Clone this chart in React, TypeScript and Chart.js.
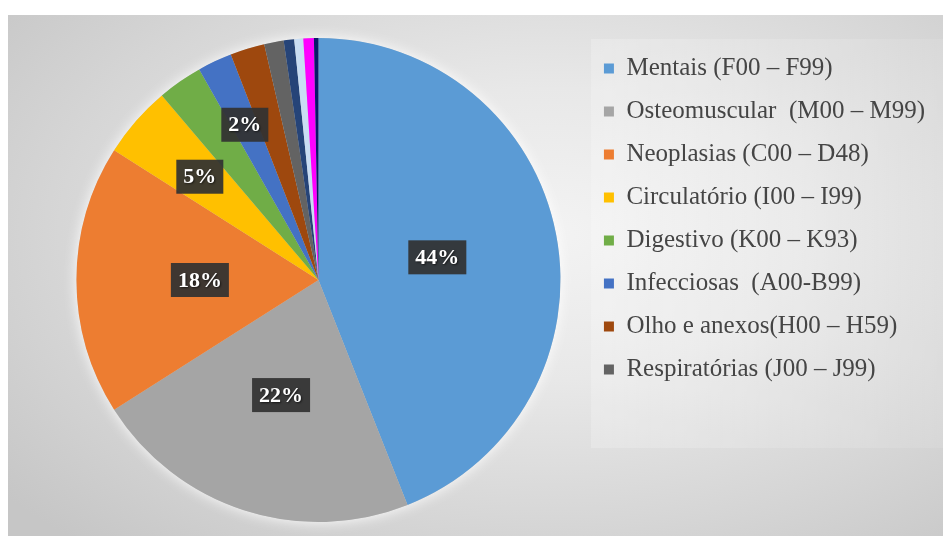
import { useEffect, useRef } from "react";
import { Chart, registerables } from "chart.js";

Chart.register(...registerables);

const categories = [
  "Mentais (F00 – F99)",
  "Osteomuscular  (M00 – M99)",
  "Neoplasias (C00 – D48)",
  "Circulatório (I00 – I99)",
  "Digestivo (K00 – K93)",
  "Infecciosas  (A00-B99)",
  "Olho e anexos(H00 – H59)",
  "Respiratórias (J00 – J99)",
  "Outros 1",
  "Outros 2",
  "Outros 3",
  "Outros 4",
];
const values = [44, 22, 18, 4.8, 3, 2.3, 2.3, 1.3, 0.7, 0.6, 0.7, 0.3];
const legendCount = 8;
const labelledSlices = [0, 1, 2, 3, 5];

const colors = [
  "#5B9BD5",
  "#A5A5A5",
  "#ED7D31",
  "#FFC000",
  "#70AD47",
  "#4472C4",
  "#9E480E",
  "#636363",
  "#264478",
  "#C9DDF3",
  "#FF00FF",
  "#0A1A6A",
];

const labelRadii: Record<number, number> = { 0: 0.5, 1: 0.5, 2: 0.49, 3: 0.65, 5: 0.71 };

const glowPlugin = {
  id: "pieGlow",
  beforeDatasetsDraw(chart: any) {
    const meta = chart.getDatasetMeta(0);
    const arc = meta.data[0];
    if (!arc) return;
    const { x, y, outerRadius } = arc.getProps(["x", "y", "outerRadius"], true);
    const ctx = chart.ctx;
    ctx.save();
    ctx.shadowColor = "rgba(255,255,255,0.95)";
    ctx.shadowBlur = 14;
    ctx.fillStyle = "#cccccc";
    ctx.beginPath();
    ctx.arc(x, y, outerRadius, 0, Math.PI * 2);
    ctx.fill();
    ctx.restore();
  },
};

const legendBoxPlugin = {
  id: "legendBox",
  beforeDraw(chart: any) {
    const lg = chart.legend;
    if (!lg) return;
    const ctx = chart.ctx;
    ctx.save();
    const grad = ctx.createLinearGradient(lg.left, 0, chart.width, 0);
    grad.addColorStop(0, "rgba(255,255,255,0.22)");
    grad.addColorStop(1, "rgba(255,255,255,0.1)");
    ctx.fillStyle = grad;
    ctx.fillRect(lg.left + 5, 24, chart.width - lg.left - 5, 409);
    ctx.restore();
  },
};

const sliceLabelPlugin = {
  id: "sliceLabels",
  afterDatasetsDraw(chart: any) {
    const meta = chart.getDatasetMeta(0);
    const ctx = chart.ctx;
    const total = values.reduce((a, b) => a + b, 0);
    ctx.save();
    ctx.font = "bold 22px 'Liberation Serif', 'Times New Roman', serif";
    ctx.textAlign = "center";
    ctx.textBaseline = "middle";
    labelledSlices.forEach((i) => {
      const arc = meta.data[i];
      if (!arc) return;
      const { x, y, startAngle, endAngle, outerRadius } = arc.getProps(
        ["x", "y", "startAngle", "endAngle", "outerRadius"],
        true
      );
      const mid = (startAngle + endAngle) / 2;
      const f = labelRadii[i] ?? 0.5;
      const cx = x + Math.cos(mid) * outerRadius * f;
      const cy = y + Math.sin(mid) * outerRadius * f;
      const text = Math.round((values[i] / total) * 100) + "%";
      const w = ctx.measureText(text).width + 14;
      const h = 34;
      ctx.fillStyle = "rgba(50,50,50,0.93)";
      ctx.fillRect(cx - w / 2, cy - h / 2, w, h);
      ctx.shadowColor = "rgba(0,0,0,0.6)";
      ctx.shadowBlur = 2;
      ctx.shadowOffsetX = 1;
      ctx.shadowOffsetY = 1;
      ctx.fillStyle = "#ffffff";
      ctx.fillText(text, cx, cy + 1);
      ctx.shadowColor = "transparent";
    });
    ctx.restore();
  },
};

export default function App() {
  const ref = useRef<HTMLCanvasElement | null>(null);

  useEffect(() => {
    if (!ref.current) return;
    const chart = new Chart(ref.current, {
      type: "pie",
      data: {
        labels: categories,
        datasets: [
          {
            data: values,
            backgroundColor: colors,
            borderWidth: 0,
          },
        ],
      },
      options: {
        responsive: false,
        animation: false,
        layout: { padding: { left: 43, top: 23, bottom: 14, right: 8 } },
        plugins: {
          tooltip: { enabled: false },
          legend: {
            position: "right",
            align: "start",
            labels: {
              boxWidth: 10,
              boxHeight: 10,
              padding: 18,
              color: "#454545",
              font: { family: "'Liberation Serif', 'Times New Roman', serif", size: 25 },
              filter: (item: any) => item.index < legendCount,
            },
          },
        },
      },
      plugins: [glowPlugin, legendBoxPlugin, sliceLabelPlugin],
    });
    return () => chart.destroy();
  }, []);

  return (
    <div
      style={{
        position: "absolute",
        left: 8,
        top: 15,
        width: 935,
        height: 521,
        background:
          "radial-gradient(ellipse 75% 80% at 58% 42%, #f3f3f3 0%, #e8e8e8 35%, #d6d6d6 70%, #c6c6c6 100%)",
      }}
    >
      <canvas ref={ref} width={935} height={521} style={{ display: "block" }} />
    </div>
  );
}
